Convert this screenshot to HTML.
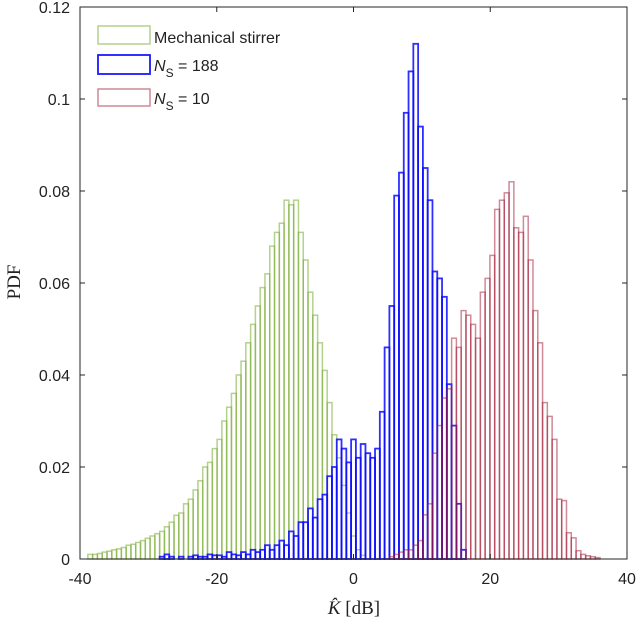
<!DOCTYPE html>
<html><head><meta charset="utf-8"><style>
html,body{margin:0;padding:0;background:#fff;}
svg{display:block;}
text{font-family:"Liberation Sans",sans-serif;}
</style></head><body>
<svg id="chart" width="640" height="622" viewBox="0 0 640 622" xmlns="http://www.w3.org/2000/svg">
<g id="bars"></g>
<g id="axes"></g>
<g>
  <rect x="98" y="26" width="52" height="18" fill="none" stroke="rgba(119,172,48,0.55)" stroke-width="1.5"/>
  <text x="154" y="43" font-size="16" fill="#222">Mechanical stirrer</text>
  <rect x="98" y="55" width="52" height="19" fill="none" stroke="#1a1aff" stroke-width="1.8"/>
  <text x="154" y="71" font-size="16" fill="#222"><tspan font-style="italic">N</tspan><tspan font-size="12" dy="6">S</tspan><tspan dy="-6"> = 188</tspan></text>
  <rect x="98" y="89" width="52" height="17" fill="none" stroke="rgba(162,20,47,0.5)" stroke-width="1.5"/>
  <text x="154" y="104" font-size="16" fill="#222"><tspan font-style="italic">N</tspan><tspan font-size="12" dy="6">S</tspan><tspan dy="-6"> = 10</tspan></text>
</g>
<text x="354" y="614" font-size="19" text-anchor="middle" fill="#222" style="font-family:'Liberation Serif',serif"><tspan font-style="italic">K̂</tspan> [dB]</text>
<text transform="translate(20,282) rotate(-90)" font-size="19" text-anchor="middle" fill="#222" style="font-family:'Liberation Serif',serif">PDF</text>
</svg>
<script>
const binWidth = 0.7;
const greenStart = -38.5;
const greenValues = [.001,.001,.0012,.0015,.0017,.002,.0022,.0025,.003,.0032,.0036,.004,.0045,.005,.0055,.006,.007,.008,.0095,.010,.012,.013,.015,.017,.020,.021,.024,.026,.030,.033,.036,.040,.043,.047,.051,.055,.059,.062,.068,.071,.073,.078,.077,.078,.071,.065,.058,.053,.047,.041,.034,.027,.022,.016,.010,.005,.002,.0008];
const blueStart = -28.0;
const blueValues = [.0005,.001,.0005,0,.0005,0,.0005,.0008,.0005,.0005,.001,.0008,.0008,.0005,.0015,.001,.0008,.0015,.001,.002,.0015,.002,.003,.002,.003,.004,.003,.006,.005,.008,.008,.011,.009,.013,.014,.018,.020,.026,.024,.021,.026,.022,.025,.023,.022,.024,.032,.046,.055,.079,.084,.097,.106,.112,.094,.085,.078,.0625,.061,.057,.038,.029,.012,.002];
const redStart = 5.6;
const redValues = [.0005,.001,.0015,.002,.002,.003,.004,.0096,.012,.023,.029,.035,.037,.048,.046,.054,.053,.051,.048,.058,.061,.066,.076,.078,.0796,.082,.072,.071,.0745,.065,.054,.047,.034,.031,.026,.013,.0127,.0057,.0046,.0018,.001,.0007,.0005,.0003];
const xTicks = [-40,-20,0,20,40];
const xTickLabels = ["-40","-20","0","20","40"];
const yTicks = [0,0.02,0.04,0.06,0.08,0.1,0.12];
const yTickLabels = ["0","0.02","0.04","0.06","0.08","0.1","0.12"];

const L=80,R=627,T=7,B=559;
const xs = v => L + (v+40)/80*(R-L);
const ys = v => B - v/0.12*(B-T);
const NS="http://www.w3.org/2000/svg";
const bars=document.getElementById('bars');
function drawSeries(start, vals, stroke, sw, name){
  vals.forEach((v,i)=>{
    if(v<=0) return;
    const c = start + i*binWidth;
    const x0 = xs(c-binWidth/2), x1 = xs(c+binWidth/2);
    const r=document.createElementNS(NS,'rect');
    r.setAttribute('x',x0); r.setAttribute('y',ys(v));
    r.setAttribute('width',x1-x0); r.setAttribute('height',B-ys(v));
    r.setAttribute('fill','none'); r.setAttribute('stroke',stroke); r.setAttribute('stroke-width',sw);
    
    
    bars.appendChild(r);
  });
}
drawSeries(greenStart, greenValues, 'rgba(119,172,48,0.55)', 1.5, 'bar-mechanical-stirrer');
drawSeries(blueStart, blueValues, 'rgba(10,10,255,0.85)', 1.8, 'bar-ns-188');
drawSeries(redStart, redValues, 'rgba(162,20,47,0.5)', 1.5, 'bar-ns-10');

const axes=document.getElementById('axes');
const box=document.createElementNS(NS,'rect');
box.setAttribute('x',L); box.setAttribute('y',T); box.setAttribute('width',R-L); box.setAttribute('height',B-T);
box.setAttribute('fill','none'); box.setAttribute('stroke','#262626'); box.setAttribute('stroke-width','1');


axes.appendChild(box);
xTicks.forEach((t,i)=>{
  const x=xs(t);
  const l=document.createElementNS(NS,'path');
  l.setAttribute('d',`M${x} ${B}V${B-5}M${x} ${T}V${T+5}`); l.setAttribute('stroke','#262626');
  
  
  axes.appendChild(l);
  const tx=document.createElementNS(NS,'text');
  tx.setAttribute('x',x); tx.setAttribute('y',584); tx.setAttribute('text-anchor','middle');
  tx.setAttribute('font-size','16'); tx.setAttribute('fill','#222'); tx.textContent=xTickLabels[i];
  
  
  axes.appendChild(tx);
});
yTicks.forEach((t,i)=>{
  const y=ys(t);
  const l=document.createElementNS(NS,'path');
  l.setAttribute('d',`M${L} ${y}H${L+5}M${R} ${y}H${R-5}`); l.setAttribute('stroke','#262626');
  
  
  axes.appendChild(l);
  const tx=document.createElementNS(NS,'text');
  tx.setAttribute('x',70); tx.setAttribute('y',y+6); tx.setAttribute('text-anchor','end');
  tx.setAttribute('font-size','16'); tx.setAttribute('fill','#222'); tx.textContent=yTickLabels[i];
  
  
  axes.appendChild(tx);
});
</script>
</body></html>
